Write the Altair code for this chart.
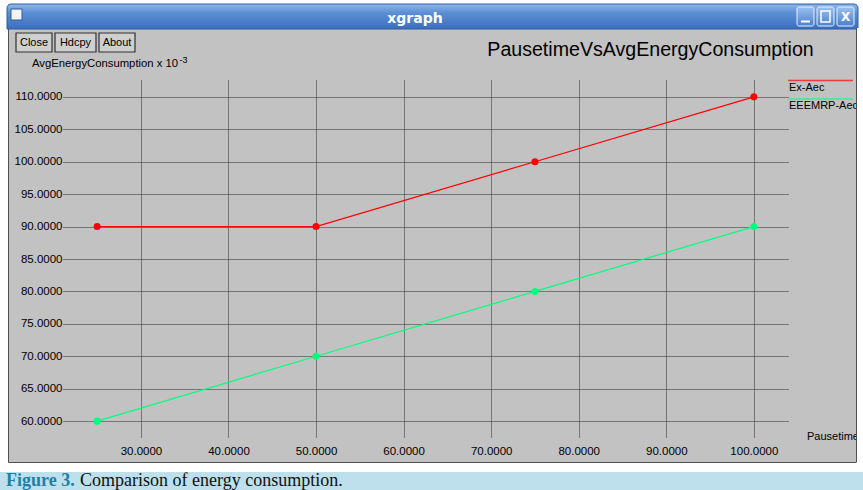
import altair as alt
import pandas as pd

# ---- data ----
pause = [25, 50, 75, 100]
ex_aec = [90, 90, 100, 110]
eeemrp_aec = [60, 70, 80, 90]
series = ["Ex-Aec", "EEEMRP-Aec"]
series_colors = ["#ff0000", "#00ff7f"]
x_ticks = [30, 40, 50, 60, 70, 80, 90, 100]
y_ticks = [60, 65, 70, 75, 80, 85, 90, 95, 100, 105, 110]

title_text = "PausetimeVsAvgEnergyConsumption"
y_title = "AvgEnergyConsumption x 10"
y_title_exp = "-3"
x_title = "Pausetime"
window_title = "xgraph"
buttons = ["Close", "Hdcpy", "About"]
caption_lead = "Figure 3."
caption_text = "Comparison of energy consumption."

rows = []
for name, vals in zip(series, [ex_aec, eeemrp_aec]):
    for p, v in zip(pause, vals):
        rows.append({"series": name, "pause": p, "value": v})
df = pd.DataFrame(rows)

# ---- layout ----
OX, OY = 63, 80          # plot origin inside the 863x490 page
W, H = 725, 358
GRAY = "#c2c2c2"
SANS = "Liberation Sans"
SERIF = "Liberation Serif"

one = alt.Data(values=[{"a": 1}])


def box(x1, y1, x2, y2, **kw):
    return alt.Chart(one).mark_rect(**kw).encode(
        x=alt.value(x1 - OX), x2=alt.value(x2 - OX),
        y=alt.value(y1 - OY), y2=alt.value(y2 - OY))


def label(txt, x, y, **kw):
    return alt.Chart(one).mark_text(**kw).encode(
        x=alt.value(x - OX), y=alt.value(y - OY), text=alt.value(txt))


def hline(x1, x2, y, color, **kw):
    return alt.Chart(one).mark_rule(color=color, **kw).encode(
        x=alt.value(x1 - OX), x2=alt.value(x2 - OX), y=alt.value(y - OY))


color_scale = alt.Scale(domain=series, range=series_colors)

x_enc = alt.X("pause:Q",
              scale=alt.Scale(domain=[21.1, 103.9], nice=False, zero=False),
              axis=alt.Axis(values=x_ticks, tickCount=len(x_ticks) + 5,
                            format=".4f", grid=True,
                            gridDash=[1, 1], gridColor="#2a2a2a", gridOpacity=1,
                            ticks=False, domain=False, labelPadding=7,
                            labelFont=SANS, labelFontSize=11.5, labelColor="#000000",
                            labelFlush=False, labelOverlap=False, title=None))
y_enc = alt.Y("value:Q",
              scale=alt.Scale(domain=[57.4, 112.6], nice=False, zero=False),
              axis=alt.Axis(values=y_ticks, tickCount=len(y_ticks) + 5,
                            format=".4f", grid=True,
                            gridDash=[1, 1], gridColor="#2a2a2a", gridOpacity=1,
                            ticks=False, domain=False, labelPadding=1,
                            labelFont=SANS, labelFontSize=11.5, labelColor="#000000",
                            labelOverlap=False, labelFlush=False, title=None))

base = alt.Chart(df)
lines = base.mark_line(strokeWidth=1.2).encode(
    x=x_enc, y=y_enc,
    color=alt.Color("series:N", scale=color_scale, legend=None),
    detail="series:N", order="pause:Q")
points = base.mark_circle(size=50, opacity=1).encode(
    x="pause:Q", y="value:Q",
    color=alt.Color("series:N", scale=color_scale, legend=None))

title_grad = alt.Gradient(
    gradient="linear", x1=0, x2=0, y1=0, y2=1,
    stops=[alt.GradientStop(offset=0, color="#8fb7ea"),
           alt.GradientStop(offset=0.35, color="#5b8fd4"),
           alt.GradientStop(offset=1, color="#3b6fbf")])
btn_grad = alt.Gradient(
    gradient="linear", x1=0, x2=0, y1=0, y2=1,
    stops=[alt.GradientStop(offset=0, color="#9cc0ee"),
           alt.GradientStop(offset=1, color="#4a7fcc")])

layers = [
    # outside-window page areas
    box(0, 0, 8, 490, fill="#ffffff"),
    box(857, 0, 863, 490, fill="#ffffff"),
    box(0, 0, 863, 4, fill="#ffffff"),
    box(0, 462, 863, 472, fill="#ffffff"),
    box(0, 472, 863, 490, fill="#bde0ec"),
    # window frame
    box(8.5, 28, 856.5, 462.5, filled=False, stroke="#505050", strokeWidth=1),
    box(7, 4, 858, 29, fill=title_grad, stroke="#2d5c9e", strokeWidth=1,
        cornerRadiusTopLeft=4, cornerRadiusTopRight=4),
    box(11, 9, 22, 20, fill="#f4f4f4", stroke="#2d5c9e", strokeWidth=1),
    box(797, 7, 814, 26, fill=btn_grad, stroke="#e8f0fa", strokeWidth=1, cornerRadius=2),
    box(817, 7, 834, 26, fill=btn_grad, stroke="#e8f0fa", strokeWidth=1, cornerRadius=2),
    box(837, 7, 854, 26, fill=btn_grad, stroke="#e8f0fa", strokeWidth=1, cornerRadius=2),
    hline(801, 810, 21.5, "#ffffff", strokeWidth=2),
    box(821, 11, 830, 22, filled=False, stroke="#ffffff", strokeWidth=1.5),
    label("X", 845.5, 17, font="DejaVu Sans", fontSize=12, fontWeight="bold",
          color="#ffffff", align="center", baseline="middle"),
    label(window_title, 415, 19, font="DejaVu Sans", fontSize=14, fontWeight="bold",
          color="#ffffff", align="center", baseline="middle"),
    # buttons
    box(16, 33, 52, 52, fill="#cfcfcf", stroke="#303030", strokeWidth=1.2),
    box(55, 33, 96, 52, fill="#cfcfcf", stroke="#303030", strokeWidth=1.2),
    box(99, 33, 135, 52, fill="#cfcfcf", stroke="#303030", strokeWidth=1.2),
    label(buttons[0], 34, 43, font=SANS, fontSize=11, color="#000000",
          align="center", baseline="middle"),
    label(buttons[1], 75.5, 43, font=SANS, fontSize=11, color="#000000",
          align="center", baseline="middle"),
    label(buttons[2], 117, 43, font=SANS, fontSize=11, color="#000000",
          align="center", baseline="middle"),
    # titles
    label(title_text, 650.5, 56, font=SANS, fontSize=19.6, color="#000000",
          align="center", baseline="alphabetic"),
    label(y_title, 32, 66.5, font=SANS, fontSize=11.3, color="#000000",
          align="left", baseline="alphabetic"),
    label(y_title_exp, 179.5, 63, font=SANS, fontSize=9, color="#000000",
          align="left", baseline="alphabetic"),
    label(x_title, 807, 437, font=SANS, fontSize=11, color="#000000",
          align="left", baseline="middle"),
    # data
    lines,
    points,
    # legend
    hline(788, 853, 80.5, series_colors[0], strokeWidth=1.5, opacity=0.7),
    label(series[0], 789, 87.5, font=SANS, fontSize=11, color="#000000",
          align="left", baseline="middle"),
    hline(788, 853, 99, series_colors[1], strokeWidth=1.5, opacity=0.7),
    label(series[1], 789, 106, font=SANS, fontSize=11, color="#000000",
          align="left", baseline="middle"),
    # right border drawn over the clipped legend label
    box(856, 28, 863, 463, fill="#ffffff"),
    alt.Chart(one).mark_rule(color="#505050", strokeWidth=1).encode(
        x=alt.value(856.5 - OX), y=alt.value(28 - OY), y2=alt.value(462.5 - OY)),
    # caption
    label(caption_lead, 6, 485.5, font=SERIF, fontSize=18, fontWeight="bold",
          color="#1f80a8", align="left", baseline="alphabetic"),
    label(caption_text, 80, 485.5, font=SERIF, fontSize=18, color="#111111",
          align="left", baseline="alphabetic"),
]

chart = alt.layer(*layers).properties(
    width=W, height=H,
    padding={"left": OX, "top": OY, "right": 863 - OX - W, "bottom": 490 - OY - H},
    autosize=alt.AutoSizeParams(type="none"),
).configure(background=GRAY).configure_view(strokeWidth=0)

chart.save("out.html", embed_options={"renderer": "svg", "actions": False})
